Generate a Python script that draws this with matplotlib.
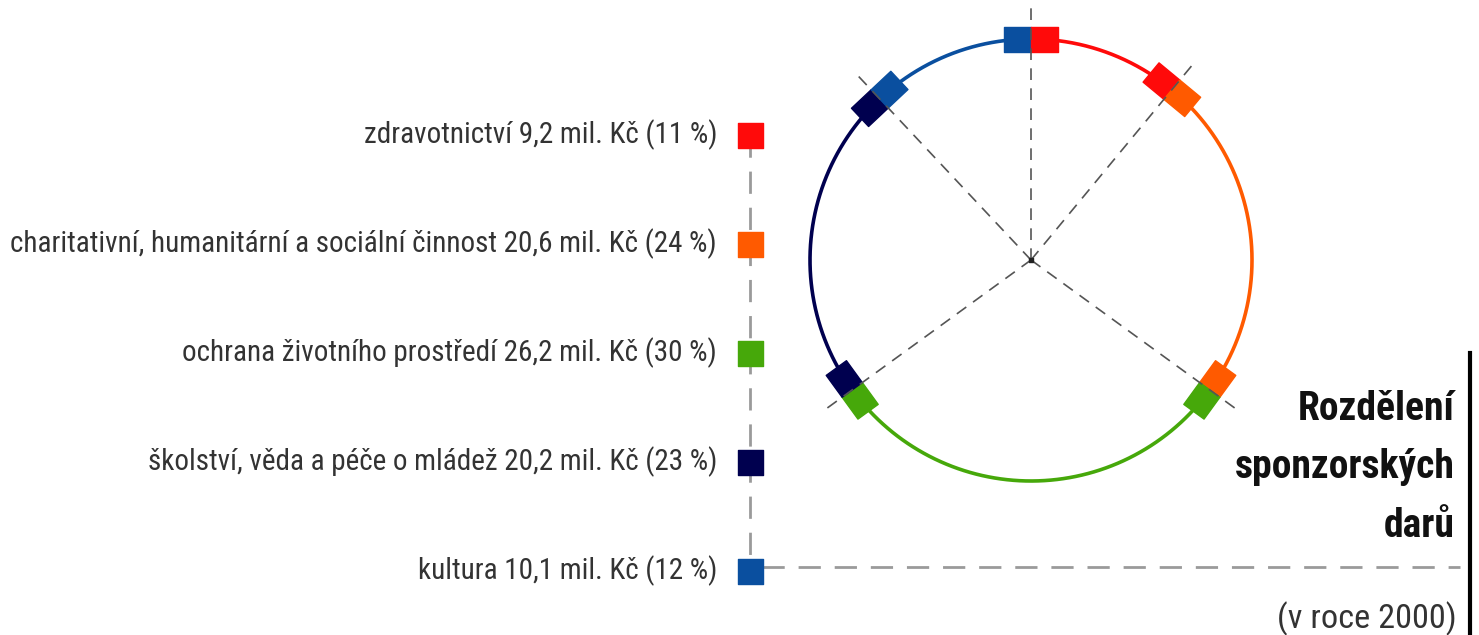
import numpy as np
import matplotlib.pyplot as plt
from matplotlib.patches import Polygon

# sponsorship donations by field, year 2000
categories = ['zdravotnictví',
              'charitativní, humanitární a sociální činnost',
              'ochrana životního prostředí',
              'školství, věda a péče o mládež',
              'kultura']
amounts = [9.2, 20.6, 26.2, 20.2, 10.1]   # mil. Kč
shares = [11, 24, 30, 23, 12]             # %
colors = ['#ff0a0a', '#ff5a00', '#46a80a', '#00004f', '#0a4f9f']
title_lines = ['Rozdělení', 'sponzorských', 'darů']
subtitle = '(v roce 2000)'

W, H = 1479, 635
cx, cy, R = 1031, 260, 221

plt.rcParams['font.family'] = ['Roboto Condensed', 'DejaVu Sans']
plt.rcParams['font.stretch'] = 'condensed'

fig = plt.figure(figsize=(W / 100, H / 100), dpi=100)
ax = fig.add_axes([0, 0, 1, 1])
ax.set_xlim(0, W)
ax.set_ylim(H, 0)
ax.axis('off')


def point(frac, r=R):
    'clockwise from top, frac in 0..1'
    a = 2 * np.pi * np.asarray(frac)
    return cx + r * np.sin(a), cy - r * np.cos(a)


def fit_width(texts, ref, target):
    'scale font sizes so that ref text is target px wide'
    fig.canvas.draw()
    w = ref.get_window_extent().width
    k = target / w
    for t in texts:
        t.set_fontsize(t.get_fontsize() * k)


bounds = np.concatenate([[0], np.cumsum(shares)]) / 100.0

# coloured arcs
for i in range(len(shares)):
    f = np.linspace(bounds[i], bounds[i + 1], 200)
    x, y = point(f)
    ax.plot(x, y, color=colors[i], lw=2.6, solid_capstyle='butt', zorder=2)

# dashed radii at the boundaries
for b in bounds[:-1]:
    x1, y1 = point(b, R * 1.15)
    ax.plot([cx, x1], [cy, y1], color='#555555', lw=1.2, ls=(0, (7, 5)), zorder=4)

# pairs of squares on each boundary
sq_t, sq_n = 27, 25
for k, b in enumerate(bounds[:-1]):
    a = 2 * np.pi * b
    p = np.array(point(b))
    t = np.array([np.cos(a), np.sin(a)])
    n = np.array([np.sin(a), -np.cos(a)])
    for side, ci in ((-1, k - 1), (1, k)):
        c = p + side * t * sq_t / 2
        corners = [c + sx * t * sq_t / 2 + sy * n * sq_n / 2
                   for sx, sy in ((-1, -1), (1, -1), (1, 1), (-1, 1))]
        ax.add_patch(Polygon(corners, closed=True, fc=colors[ci], ec=colors[ci],
                             lw=1, joinstyle='round', zorder=3))

ax.scatter([cx], [cy], s=10, marker='s', color='#222222', zorder=5)

# legend column
leg_x = 750
leg_y = np.linspace(135, 571, len(categories))
ax.plot([leg_x, leg_x], [leg_y[0], leg_y[-1]], color='#9a9a9a', lw=2,
        ls=(0, (8, 5)), zorder=1)
ax.plot([leg_x + 12, 1460], [567, 567], color='#9a9a9a', lw=2,
        ls=(0, (8, 5)), zorder=1)
ax.scatter(np.full(len(categories), leg_x), leg_y, marker='s', s=324,
           c=colors, zorder=3)

labels = []
for cat, amt, sh, y in zip(categories, amounts, shares, leg_y):
    label = f"{cat} {str(amt).replace('.', ',')} mil. Kč ({sh} %)"
    labels.append(ax.text(717, y, label, ha='right', va='center',
                          fontsize=18, color='#333333'))
fit_width(labels, labels[1], 708)

# title block
titles = []
for i, line in enumerate(title_lines):
    titles.append(ax.text(1455, 420 + 58.5 * i, line, ha='right', va='baseline',
                          fontsize=26, weight='bold', color='#111111'))
fit_width(titles, titles[1], 220)
sub = ax.text(1457, 628, subtitle, ha='right', va='baseline', fontsize=20,
              color='#333333')
fit_width([sub], sub, 180)
ax.plot([1470, 1470], [353, H], color='black', lw=3)

fig.savefig('out.png', dpi=100)
